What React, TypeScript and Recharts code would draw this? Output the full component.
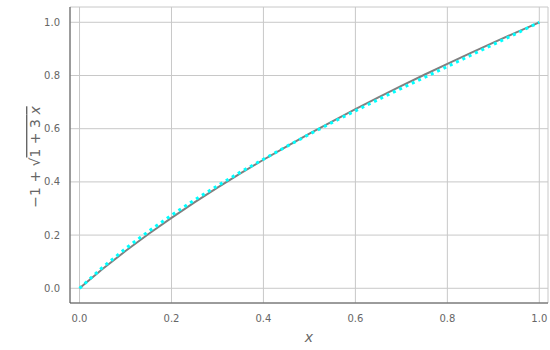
import React from 'react';
import {
  LineChart,
  Line,
  XAxis,
  YAxis,
  CartesianGrid,
} from 'recharts';

// sample points along x
const xs = [0, 0.05, 0.1, 0.15, 0.2, 0.25, 0.3, 0.35, 0.4, 0.45, 0.5, 0.55, 0.6, 0.65, 0.7, 0.75, 0.8, 0.85, 0.9, 0.95, 1];
// -1 + sqrt(1 + 3x), solid gray
const exact = [0, 0.0724, 0.1402, 0.2042, 0.2649, 0.3229, 0.3784, 0.4318, 0.4832, 0.533, 0.5811, 0.6279, 0.6733, 0.7176, 0.7607, 0.8028, 0.8439, 0.8841, 0.9235, 0.9621, 1];
// approximation, cyan dotted
const approx = [0, 0.0784, 0.1492, 0.2142, 0.2749, 0.3319, 0.3854, 0.4368, 0.4852, 0.533, 0.5791, 0.6239, 0.6673, 0.7096, 0.7517, 0.7928, 0.8339, 0.8751, 0.9165, 0.9581, 1];

const majorTicks = [0, 0.2, 0.4, 0.6, 0.8, 1];
const minorX = [0.05, 0.1, 0.15, 0.25, 0.3, 0.35, 0.45, 0.5, 0.55, 0.65, 0.7, 0.75, 0.85, 0.9, 0.95];
const minorY = [-0.05, 0.05, 0.1, 0.15, 0.25, 0.3, 0.35, 0.45, 0.5, 0.55, 0.65, 0.7, 0.75, 0.85, 0.9, 0.95, 1.05];

const data = xs.map((x, i) => ({ x, exact: exact[i], approx: approx[i] }));

const X_DOMAIN: [number, number] = [-0.0207, 1.0189];
const Y_DOMAIN: [number, number] = [-0.0553, 1.0575];
const FRAME = '#555555';
const LABEL = '#666666';
const FONT = 'DejaVu Sans, sans-serif';

const fmt = (v: number) => v.toFixed(1);

const App = () => {
  return (
    <div style={{ position: 'absolute', left: 0, top: 0, background: '#fff' }}>
      <LineChart width={550} height={350} data={data} margin={{ top: 7, right: 2, bottom: 0, left: 0 }}>
        <CartesianGrid stroke="#c8c8c8" strokeWidth={1} xAxisId="b" yAxisId="l" />

        {/* labelled axes */}
        <XAxis
          xAxisId="b"
          dataKey="x"
          type="number"
          domain={X_DOMAIN}
          ticks={majorTicks}
          tickFormatter={fmt}
          allowDataOverflow
          height={47}
          tickLine={false}
          tickMargin={6}
          axisLine={{ stroke: FRAME, strokeWidth: 1 }}
          tick={{ fill: LABEL, fontSize: 10, fontFamily: FONT }}
          label={{ value: 'x', position: 'insideBottom', offset: 8, fill: LABEL, fontSize: 14, fontStyle: 'italic', fontFamily: FONT }}
        />
        <YAxis
          yAxisId="l"
          type="number"
          domain={Y_DOMAIN}
          ticks={majorTicks}
          tickFormatter={fmt}
          allowDataOverflow
          width={70}
          tickLine={false}
          tickMargin={4}
          axisLine={{ stroke: FRAME, strokeWidth: 1 }}
          tick={{ fill: LABEL, fontSize: 10, fontFamily: FONT }}
        />

        {/* inward frame ticks */}
        <XAxis xAxisId="bM" type="number" domain={X_DOMAIN} allowDataOverflow orientation="bottom" mirror height={0} ticks={majorTicks} tick={false} tickSize={5} axisLine={false} tickLine={{ stroke: FRAME }} />
        <XAxis xAxisId="bm" type="number" domain={X_DOMAIN} allowDataOverflow orientation="bottom" mirror height={0} ticks={minorX} tick={false} tickSize={3} axisLine={false} tickLine={{ stroke: FRAME }} />
        <XAxis xAxisId="tM" type="number" domain={X_DOMAIN} allowDataOverflow orientation="top" mirror height={0} ticks={majorTicks} tick={false} tickSize={5} axisLine={{ stroke: FRAME }} tickLine={{ stroke: FRAME }} />
        <XAxis xAxisId="tm" type="number" domain={X_DOMAIN} allowDataOverflow orientation="top" mirror height={0} ticks={minorX} tick={false} tickSize={3} axisLine={false} tickLine={{ stroke: FRAME }} />
        <YAxis yAxisId="lM" type="number" domain={Y_DOMAIN} allowDataOverflow orientation="left" mirror width={0} ticks={majorTicks} tick={false} tickSize={5} axisLine={false} tickLine={{ stroke: FRAME }} />
        <YAxis yAxisId="lm" type="number" domain={Y_DOMAIN} allowDataOverflow orientation="left" mirror width={0} ticks={minorY} tick={false} tickSize={3} axisLine={false} tickLine={{ stroke: FRAME }} />
        <YAxis yAxisId="rM" type="number" domain={Y_DOMAIN} allowDataOverflow orientation="right" mirror width={0} ticks={majorTicks} tick={false} tickSize={5} axisLine={{ stroke: FRAME }} tickLine={{ stroke: FRAME }} />
        <YAxis yAxisId="rm" type="number" domain={Y_DOMAIN} allowDataOverflow orientation="right" mirror width={0} ticks={minorY} tick={false} tickSize={3} axisLine={false} tickLine={{ stroke: FRAME }} />

        <Line
          xAxisId="b"
          yAxisId="l"
          type="linear"
          dataKey="exact"
          stroke="#808080"
          strokeWidth={2}
          dot={false}
          isAnimationActive={false}
        />
        <Line
          xAxisId="b"
          yAxisId="l"
          type="linear"
          dataKey="approx"
          stroke="#00ffff"
          strokeWidth={3}
          strokeDasharray="3 4"
          dot={false}
          isAnimationActive={false}
        />

        {/* y label: -1 + sqrt(1 + 3x) */}
        <text
          x={35}
          y={157}
          transform="rotate(-90 35 157)"
          textAnchor="middle"
          dominantBaseline="central"
          fill={LABEL}
          fontSize={14}
          fontFamily={FONT}
        >
          <tspan>−1 + √</tspan>
          <tspan textDecoration="overline">1 + 3 <tspan fontStyle="italic">x</tspan></tspan>
        </text>
      </LineChart>
    </div>
  );
};

export default App;
